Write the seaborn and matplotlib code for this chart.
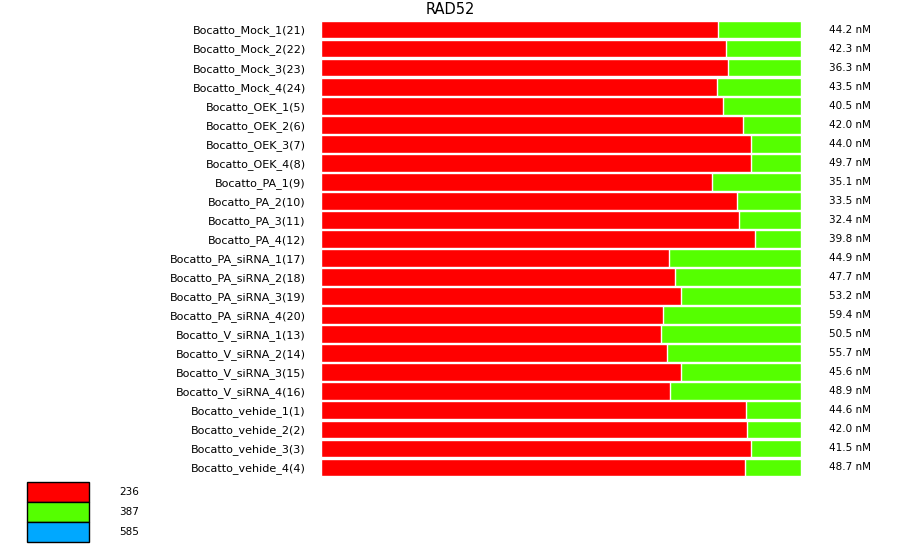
import matplotlib
matplotlib.use("Agg")
import matplotlib.pyplot as plt
import seaborn as sns
import pandas as pd

sns.set_style("white")
plt.rcParams['font.family'] = ['DejaVu Sans']
plt.rcParams['text.color'] = 'black'
plt.rcParams['ytick.color'] = 'black'

# sample names (top to bottom)
samples = [
    "Bocatto_Mock_1(21)", "Bocatto_Mock_2(22)", "Bocatto_Mock_3(23)", "Bocatto_Mock_4(24)",
    "Bocatto_OEK_1(5)", "Bocatto_OEK_2(6)", "Bocatto_OEK_3(7)", "Bocatto_OEK_4(8)",
    "Bocatto_PA_1(9)", "Bocatto_PA_2(10)", "Bocatto_PA_3(11)", "Bocatto_PA_4(12)",
    "Bocatto_PA_siRNA_1(17)", "Bocatto_PA_siRNA_2(18)", "Bocatto_PA_siRNA_3(19)", "Bocatto_PA_siRNA_4(20)",
    "Bocatto_V_siRNA_1(13)", "Bocatto_V_siRNA_2(14)", "Bocatto_V_siRNA_3(15)", "Bocatto_V_siRNA_4(16)",
    "Bocatto_vehide_1(1)", "Bocatto_vehide_2(2)", "Bocatto_vehide_3(3)", "Bocatto_vehide_4(4)",
]
# fraction of size 236 (red); remainder is 387 (green)
frac_236 = [0.827, 0.844, 0.848, 0.825, 0.838, 0.879, 0.896, 0.896,
            0.815, 0.867, 0.871, 0.904, 0.725, 0.738, 0.750, 0.713,
            0.708, 0.721, 0.750, 0.727, 0.885, 0.888, 0.896, 0.883]
conc = ["44.2", "42.3", "36.3", "43.5", "40.5", "42.0", "44.0", "49.7",
        "35.1", "33.5", "32.4", "39.8", "44.9", "47.7", "53.2", "59.4",
        "50.5", "55.7", "45.6", "48.9", "44.6", "42.0", "41.5", "48.7"]
legend_sizes = ["236", "387", "585"]
legend_colors = ["#ff0000", "#55ff00", "#00a8ff"]

df = pd.DataFrame({"sample": samples, "frac": frac_236, "total": [1.0] * len(samples)})

fig = plt.figure(figsize=(9, 5.46), dpi=100)
W, H = 900, 546
ax = fig.add_axes([321 / W, 1 - 477 / H, 480 / W, (477 - 20) / H])

sns.barplot(data=df, x="total", y="sample", color=legend_colors[1], width=0.93,
            edgecolor="white", linewidth=1, saturation=1, ax=ax)
sns.barplot(data=df, x="frac", y="sample", color=legend_colors[0], width=0.93,
            edgecolor="white", linewidth=1, saturation=1, ax=ax)

ax.set_xlim(0, 1)
ax.set_ylim(len(samples) - 0.5, -0.5)
ax.set_xlabel("")
ax.set_ylabel("")
ax.set_xticks([])
ax.tick_params(axis="y", length=0, pad=11, labelsize=8)
for s in ax.spines.values():
    s.set_visible(False)

for i, c in enumerate(conc):
    ax.annotate(f"{c} nM", xy=(1, i), xycoords=("axes fraction", "data"),
                xytext=(20, 0), textcoords="offset points",
                ha="left", va="center", fontsize=7.5)

fig.text(450 / W, 1 - 10 / H, "RAD52", ha="center", va="center", fontsize=10.5)

# legend
lax = fig.add_axes([27 / W, 1 - 542 / H, 62 / W, 60 / H])
ldf = pd.DataFrame({"size": legend_sizes, "v": [1.0] * 3})
sns.barplot(data=ldf, x="v", y="size", hue="size", palette=legend_colors, width=0.97,
            edgecolor="black", linewidth=1, saturation=1, legend=False, ax=lax)
for p in lax.patches:
    p.set_clip_on(False)
lax.set_xlim(0, 1)
lax.set_ylim(2.5, -0.5)
lax.axis("off")
for i, s in enumerate(legend_sizes):
    lax.text((119 - 27) / 62, i, s, ha="left", va="center", fontsize=7.5, clip_on=False)

fig.savefig("out.png", dpi=100)
